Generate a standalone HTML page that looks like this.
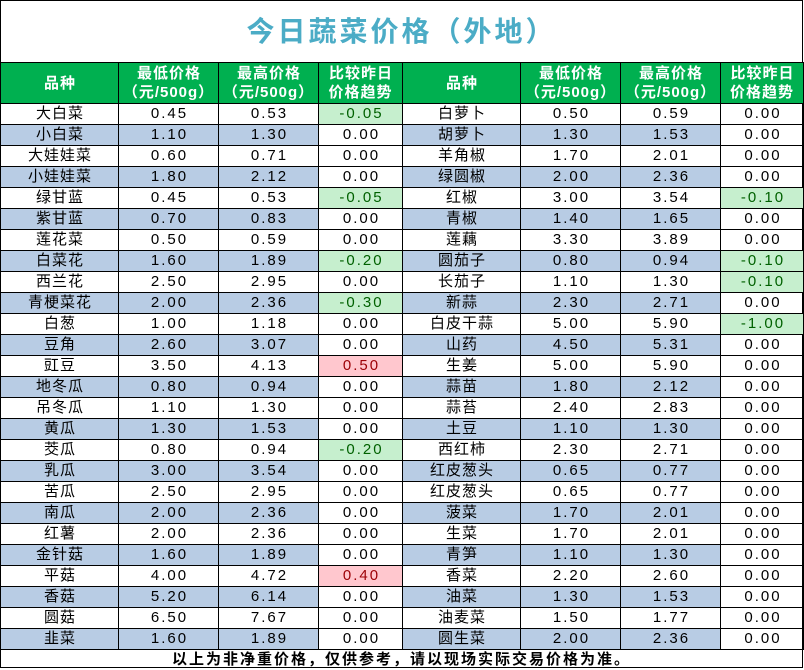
<!DOCTYPE html>
<html><head><meta charset="utf-8"><style>
body{margin:0;width:804px;height:669px;background:#fff;overflow:hidden;font-family:"Liberation Sans","Noto Sans CJK SC",sans-serif;}
.wrap{position:absolute;left:0;top:0;width:803px;height:668px;border:1px solid #000;box-sizing:border-box;}
.title{position:absolute;left:0;top:0;width:803px;height:62px;text-align:center;line-height:64px;font-size:28px;font-weight:bold;color:#4bacc6;letter-spacing:3px;}
table{position:absolute;left:0;top:62px;border-collapse:collapse;table-layout:fixed;}
td{border:1px solid #000;padding:0;text-align:center;font-size:15px;height:20px;line-height:20px;color:#000;white-space:nowrap;letter-spacing:2px;text-indent:2px;}
td:first-child,td:nth-child(5){font-size:15px;letter-spacing:1px;text-indent:1px;}
tr.h td{background:#00b050;color:#fff;font-weight:bold;height:40px;line-height:19px;font-size:15px;letter-spacing:1px;text-indent:1px;}
tr.b td.c{background:#b8cce4;}
td.g{background:#c6efce !important;color:#006100;}
td.r{background:#ffc7ce !important;color:#9c0006;}
.foot{position:absolute;left:0;top:650px;width:803px;height:18px;text-align:center;font-size:15px;font-weight:bold;line-height:20px;letter-spacing:2px;}
</style></head><body>
<div class="wrap"></div>
<div class="title">今日蔬菜价格（外地）</div>
<table>
<colgroup><col style="width:118px"><col style="width:100px"><col style="width:100px"><col style="width:84px"><col style="width:118px"><col style="width:100px"><col style="width:100px"><col style="width:83px"></colgroup>
<tr class="h"><td>品种</td><td>最低价格<br>（元/500g）</td><td>最高价格<br>（元/500g）</td><td>比较昨日<br>价格趋势</td><td>品种</td><td>最低价格<br>（元/500g）</td><td>最高价格<br>（元/500g）</td><td>比较昨日<br>价格趋势</td></tr>
<tr><td>大白菜</td><td>0.45</td><td>0.53</td><td class="g">-0.05</td><td>白萝卜</td><td>0.50</td><td>0.59</td><td>0.00</td></tr>
<tr class="b"><td class="c">小白菜</td><td class="c">1.10</td><td class="c">1.30</td><td>0.00</td><td class="c">胡萝卜</td><td class="c">1.30</td><td class="c">1.53</td><td>0.00</td></tr>
<tr><td>大娃娃菜</td><td>0.60</td><td>0.71</td><td>0.00</td><td>羊角椒</td><td>1.70</td><td>2.01</td><td>0.00</td></tr>
<tr class="b"><td class="c">小娃娃菜</td><td class="c">1.80</td><td class="c">2.12</td><td>0.00</td><td class="c">绿圆椒</td><td class="c">2.00</td><td class="c">2.36</td><td>0.00</td></tr>
<tr><td>绿甘蓝</td><td>0.45</td><td>0.53</td><td class="g">-0.05</td><td>红椒</td><td>3.00</td><td>3.54</td><td class="g">-0.10</td></tr>
<tr class="b"><td class="c">紫甘蓝</td><td class="c">0.70</td><td class="c">0.83</td><td>0.00</td><td class="c">青椒</td><td class="c">1.40</td><td class="c">1.65</td><td>0.00</td></tr>
<tr><td>莲花菜</td><td>0.50</td><td>0.59</td><td>0.00</td><td>莲藕</td><td>3.30</td><td>3.89</td><td>0.00</td></tr>
<tr class="b"><td class="c">白菜花</td><td class="c">1.60</td><td class="c">1.89</td><td class="g">-0.20</td><td class="c">圆茄子</td><td class="c">0.80</td><td class="c">0.94</td><td class="g">-0.10</td></tr>
<tr><td>西兰花</td><td>2.50</td><td>2.95</td><td>0.00</td><td>长茄子</td><td>1.10</td><td>1.30</td><td class="g">-0.10</td></tr>
<tr class="b"><td class="c">青梗菜花</td><td class="c">2.00</td><td class="c">2.36</td><td class="g">-0.30</td><td class="c">新蒜</td><td class="c">2.30</td><td class="c">2.71</td><td>0.00</td></tr>
<tr><td>白葱</td><td>1.00</td><td>1.18</td><td>0.00</td><td>白皮干蒜</td><td>5.00</td><td>5.90</td><td class="g">-1.00</td></tr>
<tr class="b"><td class="c">豆角</td><td class="c">2.60</td><td class="c">3.07</td><td>0.00</td><td class="c">山药</td><td class="c">4.50</td><td class="c">5.31</td><td>0.00</td></tr>
<tr><td>豇豆</td><td>3.50</td><td>4.13</td><td class="r">0.50</td><td>生姜</td><td>5.00</td><td>5.90</td><td>0.00</td></tr>
<tr class="b"><td class="c">地冬瓜</td><td class="c">0.80</td><td class="c">0.94</td><td>0.00</td><td class="c">蒜苗</td><td class="c">1.80</td><td class="c">2.12</td><td>0.00</td></tr>
<tr><td>吊冬瓜</td><td>1.10</td><td>1.30</td><td>0.00</td><td>蒜苔</td><td>2.40</td><td>2.83</td><td>0.00</td></tr>
<tr class="b"><td class="c">黄瓜</td><td class="c">1.30</td><td class="c">1.53</td><td>0.00</td><td class="c">土豆</td><td class="c">1.10</td><td class="c">1.30</td><td>0.00</td></tr>
<tr><td>茭瓜</td><td>0.80</td><td>0.94</td><td class="g">-0.20</td><td>西红柿</td><td>2.30</td><td>2.71</td><td>0.00</td></tr>
<tr class="b"><td class="c">乳瓜</td><td class="c">3.00</td><td class="c">3.54</td><td>0.00</td><td class="c">红皮葱头</td><td class="c">0.65</td><td class="c">0.77</td><td>0.00</td></tr>
<tr><td>苦瓜</td><td>2.50</td><td>2.95</td><td>0.00</td><td>红皮葱头</td><td>0.65</td><td>0.77</td><td>0.00</td></tr>
<tr class="b"><td class="c">南瓜</td><td class="c">2.00</td><td class="c">2.36</td><td>0.00</td><td class="c">菠菜</td><td class="c">1.70</td><td class="c">2.01</td><td>0.00</td></tr>
<tr><td>红薯</td><td>2.00</td><td>2.36</td><td>0.00</td><td>生菜</td><td>1.70</td><td>2.01</td><td>0.00</td></tr>
<tr class="b"><td class="c">金针菇</td><td class="c">1.60</td><td class="c">1.89</td><td>0.00</td><td class="c">青笋</td><td class="c">1.10</td><td class="c">1.30</td><td>0.00</td></tr>
<tr><td>平菇</td><td>4.00</td><td>4.72</td><td class="r">0.40</td><td>香菜</td><td>2.20</td><td>2.60</td><td>0.00</td></tr>
<tr class="b"><td class="c">香菇</td><td class="c">5.20</td><td class="c">6.14</td><td>0.00</td><td class="c">油菜</td><td class="c">1.30</td><td class="c">1.53</td><td>0.00</td></tr>
<tr><td>圆菇</td><td>6.50</td><td>7.67</td><td>0.00</td><td>油麦菜</td><td>1.50</td><td>1.77</td><td>0.00</td></tr>
<tr class="b"><td class="c">韭菜</td><td class="c">1.60</td><td class="c">1.89</td><td>0.00</td><td class="c">圆生菜</td><td class="c">2.00</td><td class="c">2.36</td><td>0.00</td></tr>
</table>
<div class="foot">以上为非净重价格，仅供参考，请以现场实际交易价格为准。</div>
</body></html>
